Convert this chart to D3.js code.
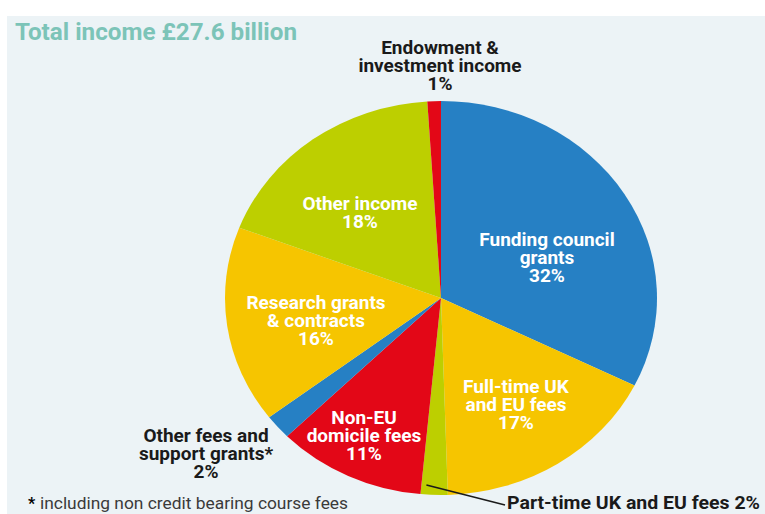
<!DOCTYPE html>
<html>
<head>
<meta charset="utf-8">
<script src="https://cdn.jsdelivr.net/npm/d3@7"></script>
<style>
  html, body { margin: 0; padding: 0; background: #ffffff; }
  svg { display: block; }
  text { font-family: Roboto, "DejaVu Sans", sans-serif; }
</style>
</head>
<body>
<svg id="chart" width="765" height="514"></svg>
<script>
// Income sources, clockwise from 12 o'clock
const categories = [
  "Funding council grants",
  "Full-time UK and EU fees",
  "Part-time UK and EU fees",
  "Non-EU domicile fees",
  "Other fees and support grants*",
  "Research grants & contracts",
  "Other income",
  "Endowment & investment income"
];
const shares = [32, 17, 2, 11, 2, 16, 18, 1];
const sliceColors = ["#2680c4", "#f6c500", "#bdcf00", "#e30717", "#2680c4", "#f6c500", "#bdcf00", "#e30717"];
const labelLines = [
  ["Funding council", "grants"],
  ["Full-time UK", "and EU fees"],
  ["Part-time UK and EU fees"],
  ["Non-EU", "domicile fees"],
  ["Other fees and", "support grants*"],
  ["Research grants", "& contracts"],
  ["Other income"],
  ["Endowment &", "investment income"]
];
const title = "Total income £27.6 billion";
const footnote = "including non credit bearing course fees";

const svg = d3.select("#chart");

// panel background
svg.append("rect")
  .attr("x", 7).attr("y", 16)
  .attr("width", 758).attr("height", 498)
  .attr("fill", "#ecf3f6");

svg.append("text")
  .attr("x", 15).attr("y", 40)
  .attr("font-size", 24).attr("font-weight", 700)
  .attr("fill", "#7cc4b8")
  .attr("textLength", 282).attr("lengthAdjust", "spacingAndGlyphs")
  .text(title);

// pie, drawn as a slightly wide ellipse
const cx = 441, cy = 298, ry = 197, rx = 216;
const pie = d3.pie().sort(null).value(d => d)(shares);
const arc = d3.arc().innerRadius(0).outerRadius(ry);

const g = svg.append("g")
  .attr("transform", `translate(${cx},${cy}) scale(${rx / ry},1)`);
g.selectAll("path")
  .data(pie)
  .join("path")
  .attr("d", arc)
  .attr("fill", (d, i) => sliceColors[i]);

// label placement (centre x, first line centre y, colour)
const lineH = 18;
const labelPos = [
  { x: 547, y: 239, fill: "#ffffff" },
  { x: 516, y: 386, fill: "#ffffff" },
  null,
  { x: 364, y: 417, fill: "#ffffff" },
  { x: 206, y: 435, fill: "#1a1a1a" },
  { x: 316, y: 302, fill: "#ffffff" },
  { x: 360, y: 203, fill: "#ffffff" },
  { x: 440, y: 47, fill: "#1a1a1a" }
];

labelPos.forEach((p, i) => {
  if (!p) return;
  const lines = labelLines[i].concat([shares[i] + "%"]);
  const t = svg.append("text")
    .attr("text-anchor", "middle")
    .attr("font-size", 19).attr("font-weight", 700)
    .attr("fill", p.fill);
  lines.forEach((s, k) => {
    t.append("tspan")
      .attr("x", p.x)
      .attr("y", p.y + k * lineH)
      .attr("dy", "0.35em")
      .text(s);
  });
});

// part-time slice: leader line and outside label
const pt = 2;
const ptArc = pie[pt];
const midA = (ptArc.startAngle + ptArc.endAngle) / 2;
const r0 = ry * 0.96;
const lx = cx + Math.sin(midA) * r0 * (rx / ry) - 8;
const ly = cy - Math.cos(midA) * r0 - 2;
svg.append("line")
  .attr("x1", lx).attr("y1", ly)
  .attr("x2", 505).attr("y2", 505)
  .attr("stroke", "#1a1a1a").attr("stroke-width", 1.5);
svg.append("text")
  .attr("x", 507).attr("y", 502).attr("dy", "0.35em")
  .attr("font-size", 19).attr("font-weight", 700)
  .attr("fill", "#1a1a1a")
  .attr("textLength", 253).attr("lengthAdjust", "spacingAndGlyphs")
  .text(labelLines[pt][0] + " " + shares[pt] + "%");

// footnote
const fn = svg.append("text")
  .attr("x", 28).attr("y", 503).attr("dy", "0.35em")
  .attr("font-size", 16).attr("fill", "#3a3a3a");
fn.append("tspan").attr("font-weight", 700).attr("fill", "#000").text("*");
fn.append("tspan").attr("x", 40)
  .attr("textLength", 308).attr("lengthAdjust", "spacingAndGlyphs")
  .text(footnote);
</script>
</body>
</html>
